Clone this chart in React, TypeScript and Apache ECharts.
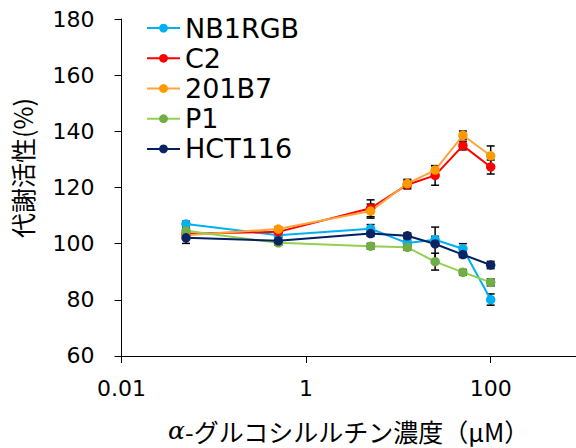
import React, { useEffect, useRef } from "react";
import * as echarts from "echarts";

const concentrations = [0.05, 0.5, 5, 12.5, 25, 50, 100];
const seriesNames = ["NB1RGB", "C2", "201B7", "P1", "HCT116"];
const nb1rgb = [107, 103, 105.3, 100.2, 101.4, 98.2, 80.1];
const nb1rgbErr = [1, 0.8, 1.5, 1, 1.2, 1.8, 2];
const c2 = [103.5, 104.2, 112.6, 121, 124.3, 134.9, 127.3];
const c2Err = [1, 0.8, 3, 1.5, 3.5, 1.5, 2.5];
const b201b7 = [103, 105.2, 111.6, 121.4, 126.2, 138.6, 131.3];
const b201b7Err = [1, 0.8, 2.5, 1.5, 1.5, 1.5, 3.5];
const p1 = [104.6, 100.3, 99.1, 98.7, 93.6, 89.8, 86.2];
const p1Err = [1, 0.8, 1, 1, 3, 1, 1.2];
const hct116 = [102.1, 101, 103.6, 102.8, 99.9, 96.1, 92.4];
const hct116Err = [2, 1.4, 1, 1, 6, 1, 1.3];
const xTickLabels = ["0.01", "1", "100"];

const lineColors = ["#00b0f0", "#ff0000", "#ffa33a", "#92d050", "#002060"];
const markerColors = ["#00b0f0", "#ff0000", "#ff9900", "#70ad47", "#0a2463"];

const values = [nb1rgb, c2, b201b7, p1, hct116];
const errors = [nb1rgbErr, c2Err, b201b7Err, p1Err, hct116Err];

export default function App() {
  const ref = useRef<HTMLDivElement>(null);
  useEffect(() => {
    if (!ref.current) return;
    const chart = echarts.init(ref.current, null, { renderer: "svg" });
    const latin = "DejaVu Sans";
    const cjk = "Noto Sans CJK JP";

    const lineSeries = seriesNames.map((name, i) => ({
      name,
      type: "line",
      data: concentrations.map((x, j) => [x, values[i][j]]),
      symbol: "circle",
      symbolSize: 9.5,
      z: 3,
      lineStyle: { color: lineColors[i], width: 2 },
      itemStyle: { color: markerColors[i] },
      emphasis: { disabled: true },
    }));

    const errSeries = seriesNames.map((name, i) => ({
      name: name + "-err",
      type: "custom",
      z: 2,
      encode: { x: 0, y: [1, 2] },
      data: concentrations.map((x, j) => [x, values[i][j] - errors[i][j], values[i][j] + errors[i][j]]),
      renderItem: (params: any, api: any) => {
        const x = api.value(0);
        const top = api.coord([x, api.value(2)]);
        const bot = api.coord([x, api.value(1)]);
        const w = 4;
        const st = { stroke: "#000", lineWidth: 1.5 };
        return {
          type: "group",
          children: [
            { type: "line", shape: { x1: top[0], y1: top[1], x2: bot[0], y2: bot[1] }, style: st },
            { type: "line", shape: { x1: top[0] - w, y1: top[1], x2: top[0] + w, y2: top[1] }, style: st },
            { type: "line", shape: { x1: bot[0] - w, y1: bot[1], x2: bot[0] + w, y2: bot[1] }, style: st },
          ],
        };
      },
    }));

    chart.setOption({
      animation: false,
      grid: { left: 121.5, right: 0, top: 19, bottom: 92, containLabel: false },
      legend: {
        orient: "vertical",
        left: 141,
        top: 8,
        itemWidth: 33,
        itemHeight: 11,
        itemGap: 0,
        data: seriesNames,
        textStyle: { fontFamily: latin, fontSize: 27, color: "#000", lineHeight: 30.2 },
      },
      xAxis: {
        type: "log",
        logBase: 10,
        min: 0.01,
        max: 840,
        interval: 2,
        name: "{a|α}-グルコシルルチン濃度（μM）",
        nameLocation: "middle",
        nameGap: 62,
        nameTextStyle: {
          fontFamily: cjk,
          fontSize: 25,
          color: "#000",
          rich: { a: { fontFamily: "DejaVu Serif", fontStyle: "italic", fontSize: 25, color: "#000" } },
        },
        axisLine: { lineStyle: { color: "#000", width: 1 } },
        axisTick: { show: true, length: 7, lineStyle: { color: "#000" } },
        splitLine: { show: false },
        minorTick: { show: false },
        axisLabel: {
          margin: 22,
          fontFamily: latin,
          fontSize: 22,
          color: "#000",
          showMaxLabel: false,
          formatter: (v: number) => {
            const e = Math.round(Math.log10(v));
            const s = Math.abs(Math.log10(v) - e) < 1e-6 ? String(Math.pow(10, e)) : "";
            return xTickLabels.includes(s) ? s : "";
          },
        },
      },
      yAxis: {
        type: "value",
        min: 60,
        max: 180,
        interval: 20,
        axisLine: { show: true, lineStyle: { color: "#000", width: 1 } },
        axisTick: { show: true, length: 7, lineStyle: { color: "#000" } },
        splitLine: { show: false },
        axisLabel: { margin: 27, fontFamily: latin, fontSize: 22, color: "#000" },
      },
      graphic: [
        {
          type: "text",
          x: 22,
          y: 168,
          rotation: Math.PI / 2,
          style: {
            text: "代謝活性(%)",
            fontFamily: cjk,
            fontSize: 25,
            fill: "#000",
            align: "center",
            verticalAlign: "middle",
          },
        },
      ],
      series: [...errSeries, ...lineSeries],
    });
    return () => chart.dispose();
  }, []);
  return <div ref={ref} style={{ position: "absolute", left: 0, top: 0, width: 576, height: 448 }} />;
}
